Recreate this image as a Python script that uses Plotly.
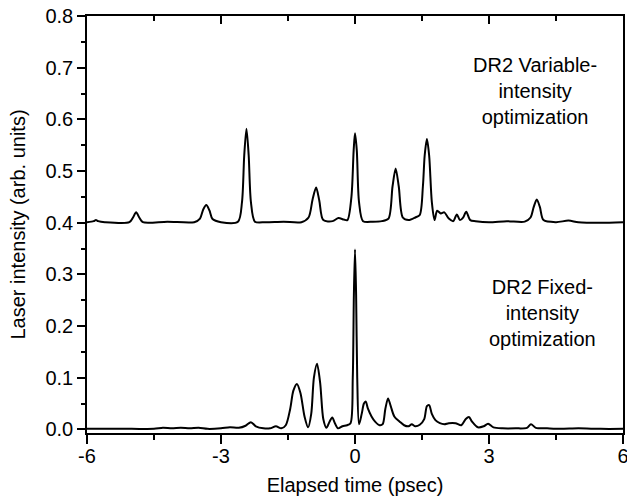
import plotly.graph_objects as go

# Upper trace: DR2 variable-intensity optimization (offset baseline 0.4)
t_var = [-6.0, -5.85, -5.8, -5.75, -5.6, -5.05, -4.97, -4.9, -4.83, -4.75, -4.2, -3.6,
         -3.47, -3.4, -3.33, -3.26, -3.19, -3.0, -2.62, -2.53, -2.48, -2.43, -2.38, -2.33,
         -2.24, -2.0, -1.6, -1.2, -1.04, -0.95, -0.87, -0.8, -0.71, -0.5, -0.37, -0.25,
         -0.17, -0.08, -0.03, 0.0, 0.04, 0.09, 0.18, 0.4, 0.6, 0.75, 0.84, 0.91, 0.98,
         1.07, 1.2, 1.35, 1.45, 1.52, 1.56, 1.61, 1.66, 1.72, 1.78, 1.84, 1.92, 2.0, 2.1,
         2.2, 2.28, 2.35, 2.42, 2.49, 2.58, 2.7, 3.0, 3.4, 3.8, 3.93, 4.0, 4.07, 4.14,
         4.22, 4.5, 4.78, 5.0, 5.5, 6.0]
y_var = [0.401, 0.403, 0.405, 0.403, 0.401, 0.401, 0.41, 0.42, 0.41, 0.401, 0.402, 0.401,
         0.408, 0.425, 0.434, 0.424, 0.407, 0.401, 0.402, 0.44, 0.53, 0.582, 0.53, 0.44,
         0.402, 0.401, 0.402, 0.401, 0.41, 0.445, 0.468, 0.443, 0.405, 0.403, 0.409, 0.406,
         0.405, 0.45, 0.54, 0.573, 0.54, 0.44, 0.403, 0.402, 0.403, 0.408, 0.47, 0.505, 0.47,
         0.41, 0.405, 0.41, 0.415, 0.47, 0.53, 0.562, 0.53, 0.44, 0.405, 0.423, 0.418, 0.42, 0.408,
         0.403, 0.416, 0.405, 0.41, 0.421, 0.405, 0.403, 0.401, 0.403, 0.402, 0.41, 0.43, 0.445, 0.43,
         0.405, 0.401, 0.404, 0.401, 0.400, 0.401]

# Lower trace: DR2 fixed-intensity optimization
t_fix = [-6.0, -5.0, -4.5, -4.3, -4.1, -3.9, -3.7, -3.5, -3.3, -3.0, -2.8, -2.6, -2.45,
         -2.33, -2.22, -2.05, -1.9, -1.77, -1.65, -1.55, -1.45, -1.38, -1.3, -1.22, -1.13,
         -1.05, -0.98, -0.92, -0.85, -0.78, -0.71, -0.64, -0.57, -0.51, -0.45, -0.38, -0.28,
         -0.18, -0.1, -0.05, -0.025, 0.0, 0.025, 0.05, 0.09, 0.15, 0.2, 0.24, 0.29, 0.37,
         0.45, 0.55, 0.62, 0.68, 0.74, 0.8, 0.88, 1.0, 1.1, 1.2, 1.27, 1.35, 1.45, 1.55,
         1.61, 1.66, 1.72, 1.8, 1.9, 2.0, 2.1, 2.25, 2.38, 2.48, 2.55, 2.62, 2.75, 2.88,
         2.98, 3.1, 3.3, 3.6, 3.85, 3.94, 4.05, 4.3, 4.6, 5.0, 5.5, 6.0]
y_fix = [0.001, 0.001, 0.001, 0.003, 0.002, 0.003, 0.002, 0.003, 0.001, 0.002, 0.004, 0.003,
         0.007, 0.014, 0.006, 0.002, 0.002, 0.006, 0.002, 0.008, 0.04, 0.075, 0.088, 0.07,
         0.025, 0.004, 0.03, 0.1, 0.127, 0.09, 0.02, 0.003, 0.015, 0.023, 0.012, 0.002, 0.006,
         0.008, 0.012, 0.1, 0.26, 0.348, 0.26, 0.1, 0.01, 0.03, 0.05, 0.054, 0.04, 0.025,
         0.015, 0.008, 0.01, 0.04, 0.06, 0.045, 0.025, 0.015, 0.008, 0.006, 0.01, 0.006,
         0.009, 0.02, 0.045, 0.047, 0.03, 0.018, 0.012, 0.01, 0.012, 0.012, 0.008, 0.02,
         0.024, 0.015, 0.004, 0.006, 0.011, 0.004, 0.002, 0.002, 0.003, 0.01, 0.003, 0.002,
         0.001, 0.002, 0.001, 0.001]

x_ticks = [-6, -3, 0, 3, 6]
x_ticklabels = ["-6", "-3", "0", "3", "6"]
label_var = "DR2 Variable-<br>intensity<br>optimization"
label_fix = "DR2 Fixed-<br>intensity<br>optimization"

FONT = "Liberation Sans, Arial, sans-serif"
fig = go.Figure()
line = dict(color="black", width=2, shape="spline", smoothing=0.8)
fig.add_trace(go.Scatter(x=t_var, y=y_var, mode="lines", line=line, showlegend=False))
fig.add_trace(go.Scatter(x=t_fix, y=y_fix, mode="lines", line=line, showlegend=False))
# invisible trace to activate the top tick axis
fig.add_trace(go.Scatter(x=t_fix, y=y_fix, mode="lines", xaxis="x2", opacity=0,
                         showlegend=False, hoverinfo="skip"))

fig.update_layout(
    width=627, height=501,
    margin=dict(l=87, r=4, t=16, b=68),
    plot_bgcolor="white", paper_bgcolor="white",
    font=dict(family=FONT, size=20, color="black"),
    xaxis=dict(range=[-6, 6], tickvals=x_ticks, ticktext=x_ticklabels, automargin=False,
               ticklabeloverflow="allow", ticklabelstandoff=-5,
               ticks="outside", ticklen=9, tickwidth=1.5, tickcolor="black",
               minor=dict(dtick=1.5, tick0=-6, ticks="outside", ticklen=5, tickwidth=1.5, tickcolor="black"),
               showline=True, linecolor="black", linewidth=1.5, mirror=True,
               showgrid=False, zeroline=False,
               title=dict(text="Elapsed time (psec)", font=dict(size=20), standoff=12)),
    xaxis2=dict(range=[-6, 6], overlaying="x", side="top", matches="x", automargin=False,
                tickvals=x_ticks, ticks="inside", ticklen=8, tickwidth=1.5, tickcolor="black",
                minor=dict(dtick=1.5, tick0=-6, ticks="inside", ticklen=5, tickwidth=1.5, tickcolor="black"),
                showticklabels=False, showgrid=False, zeroline=False, showline=False),
    yaxis=dict(range=[-0.007, 0.8], dtick=0.1, tick0=0, tickformat=".1f", automargin=False,
               ticklabeloverflow="allow",
               ticks="outside", ticklen=8, tickwidth=1.5, tickcolor="black",
               minor=dict(dtick=0.05, tick0=0, ticks="outside", ticklen=4, tickwidth=1.5, tickcolor="black"),
               showline=True, linecolor="black", linewidth=1.5, mirror=True,
               showgrid=False, zeroline=False,
               title=dict(text="Laser intensity (arb. units)", font=dict(size=20), standoff=14)),
    annotations=[
        dict(x=4.03, y=0.654, xref="x", yref="y", text=label_var, showarrow=False,
             font=dict(size=20), align="center"),
        dict(x=4.2, y=0.225, xref="x", yref="y", text=label_fix, showarrow=False,
             font=dict(size=20), align="center"),
    ],
)
fig.write_html("out.html", config={"displayModeBar": False},
               post_script="document.body.style.margin='0';document.body.style.overflow='hidden';")
